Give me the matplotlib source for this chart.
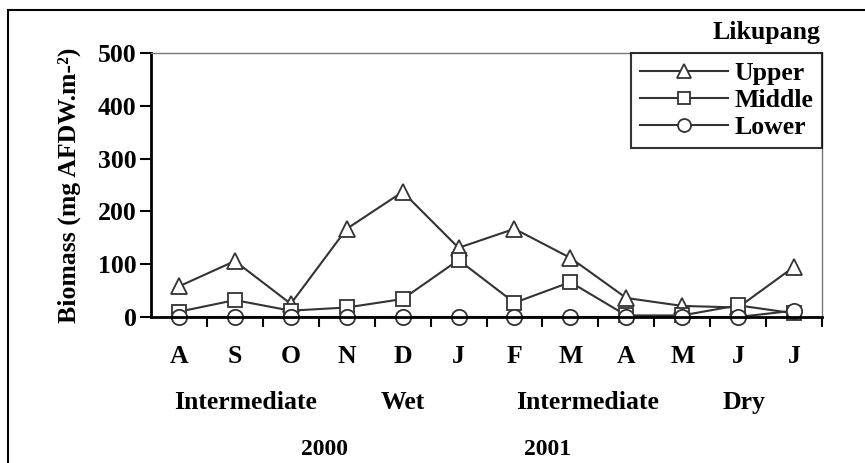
import matplotlib
matplotlib.use("Agg")
from matplotlib import pyplot as plt
from matplotlib.patches import Rectangle

# data
months = ["A", "S", "O", "N", "D", "J", "F", "M", "A", "M", "J", "J"]
upper = [58, 106, 25, 167, 237, 131, 167, 112, 36, 21, 18, 95]
middle = [10, 32, 12, 18, 34, 108, 27, 66, 3, 3, 22, 7]
lower = [0, 0, 0, 0, 0, 0, 0, 0, 0, 0, 0, 12]
seasons = ["Intermediate", "Wet", "Intermediate", "Dry"]
season_pos = [1.2, 4.0, 7.3, 10.1]
years = ["2000", "2001"]
year_pos = [2.6, 6.6]

plt.rcParams['font.family'] = ['Liberation Serif', 'DejaVu Serif']
plt.rcParams['font.weight'] = 'bold'
fs = 18.5

fig = plt.figure(figsize=(8.65, 4.63), dpi=100)
ax = fig.add_axes([151 / 865, 146 / 463, 671 / 865, 264 / 463])

# outer frame of the figure (only top and left visible)
fig.patches.append(Rectangle((8 / 865, -0.05), 1.0, 1 - 10 / 463 + 0.05,
                             transform=fig.transFigure, fill=False,
                             edgecolor='black', linewidth=1.5))

x = list(range(len(months)))
col = '#333333'
style = dict(color=col, linewidth=1.5, markerfacecolor='white',
             markeredgecolor=col, markeredgewidth=1.3, clip_on=False)
ax.plot(x, upper, marker='^', markersize=12, label='Upper', **style)
ax.plot(x, middle, marker='s', markersize=10, label='Middle', **style)
ax.plot(x, lower, marker='o', markersize=11, label='Lower', **style)

ax.set_xlim(-0.5, 11.5)
ax.set_ylim(0, 500)
ax.set_yticks([0, 100, 200, 300, 400, 500])
ax.set_xticks(x)
ax.set_xticklabels(months)
ax.set_xticks([i - 0.5 for i in range(1, 13)], minor=True)
ax.tick_params(axis='x', which='major', length=0, pad=20, labelsize=fs)
ax.tick_params(axis='x', which='minor', length=7, width=1.5, direction='out')
ax.tick_params(axis='y', length=8, width=1.5, direction='out', labelsize=fs, pad=2.5)

for s in ['left', 'bottom']:
    ax.spines[s].set_linewidth(2)
    ax.spines[s].set_color('black')
for s in ['top', 'right']:
    ax.spines[s].set_linewidth(1)
    ax.spines[s].set_color('#777777')

ax.set_ylabel('Biomass (mg AFDW.m-²)', fontsize=fs, fontweight='bold', labelpad=12)

for name, pos in zip(seasons, season_pos):
    ax.text(pos, -162, name, ha='center', va='center', fontsize=fs,
            fontweight='bold', transform=ax.transData)
for name, pos in zip(years, year_pos):
    ax.text(pos, -251, name, ha='center', va='center', fontsize=17,
            fontweight='bold', transform=ax.transData)

fig.text(820 / 865, 1 - 33 / 463, 'Likupang', ha='right', va='center',
         fontsize=fs, fontweight='bold')

leg = ax.legend(loc='upper right', bbox_to_anchor=(1.0, 1.0), frameon=True,
                fancybox=False, edgecolor='black', fontsize=fs, handlelength=3.4,
                handletextpad=0.25, labelspacing=0.15, borderpad=0.35,
                borderaxespad=0, markerscale=0.85)
leg.get_frame().set_linewidth(1.5)

fig.savefig('out.png', dpi=100)
